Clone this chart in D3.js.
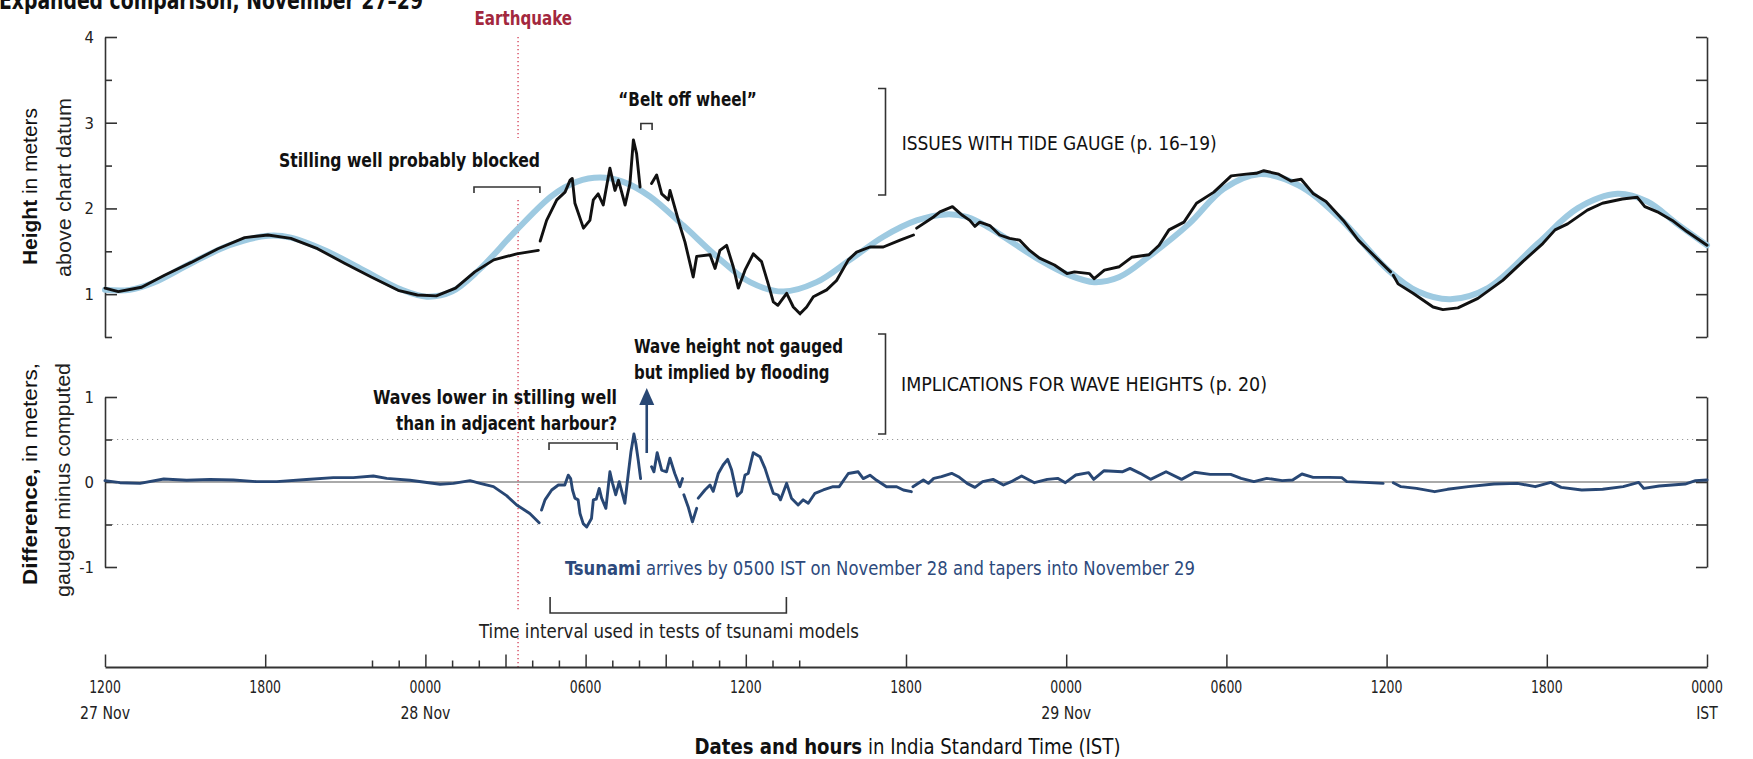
<!DOCTYPE html>
<html><head><meta charset="utf-8">
<script src="https://cdn.jsdelivr.net/npm/d3@7"></script>
<style>
html,body{margin:0;padding:0;background:#fff;}
svg{display:block;}
text{font-family:"Liberation Sans Narrow","Arial Narrow","DejaVu Sans Condensed",sans-serif;}
</style></head><body>
<svg id="chart" width="1753" height="759"></svg>
<script>
// Hours after 1200 IST, 27 November; heights in meters above chart datum
const computedTide = [
[0,1.05],[0.93,1.05],[1.79,1.13],[3.23,1.36],[4.66,1.57],[6.1,1.68],[6.96,1.66],[8.25,1.51],[9.68,1.28],
[11.12,1.05],[12.05,0.97],[12.99,1.03],[14.0,1.28],[15.42,1.75],[16.75,2.15],[17.66,2.31],[18.54,2.36],
[19.41,2.31],[20.41,2.14],[21.66,1.80],[22.91,1.44],[24.16,1.14],[25.4,1.03],[26.65,1.14],[27.9,1.40],
[29.15,1.67],[30.4,1.86],[31.5,1.93],[32.3,1.90],[33.14,1.77],[35.0,1.40],[36.12,1.22],[37.05,1.14],
[37.99,1.20],[39.1,1.44],[40.6,1.82],[41.9,2.23],[43.21,2.40],[44.7,2.27],[46.2,1.90],[48.06,1.28],
[49.18,1.03],[50.39,0.94],[51.79,1.07],[53.66,1.59],[55.15,2.00],[56.64,2.17],[57.76,2.08],[58.88,1.82],[60,1.57]
];
const gaugedHeight = [
[0,1.07],[0.5,1.03],[1.37,1.08],[2.23,1.22],[3.23,1.37],[4.23,1.53],[5.23,1.66],[6.1,1.69],[6.96,1.65],
[7.96,1.53],[8.97,1.36],[9.97,1.20],[10.98,1.045],[11.7,0.99],[12.41,0.98],[13.13,1.07],[13.85,1.26],
[14.56,1.40],[15.42,1.47],[16.23,1.51],[16.27,null],
[16.3,1.62],[16.54,1.86],[16.92,2.10],[17.23,2.19],[17.42,2.33],[17.5,2.35],[17.6,2.06],[17.92,1.77],
[18.16,1.86],[18.29,2.10],[18.47,2.17],[18.66,2.04],[18.91,2.47],[19.10,2.21],[19.23,2.33],[19.48,2.04],
[19.66,2.29],[19.79,2.80],[19.91,2.64],[20.04,2.25],[20.2,null],
[20.47,2.29],[20.66,2.39],[20.85,2.17],[21.10,2.10],[21.16,2.21],[21.54,1.79],[21.72,1.61],[22.03,1.20],
[22.16,1.44],[22.66,1.46],[22.85,1.30],[23.03,1.51],[23.28,1.57],[23.53,1.32],[23.72,1.07],[23.97,1.28],
[24.28,1.47],[24.59,1.38],[24.84,1.12],[25.03,0.91],[25.2,0.87],[25.53,1.01],[25.78,0.85],[26.03,0.77],
[26.28,0.85],[26.53,0.97],[27.03,1.05],[27.4,1.16],[27.84,1.40],[28.15,1.49],[28.65,1.55],[29.15,1.55],
[29.78,1.63],[30.28,1.69],[30.34,null],
[30.40,1.77],[31.03,1.90],[31.27,1.96],[31.74,2.02],[32.11,1.92],[32.39,1.86],[32.58,1.79],[32.76,1.84],
[33.14,1.80],[33.51,1.69],[33.88,1.65],[34.26,1.63],[34.63,1.51],[35.0,1.42],[35.56,1.34],[36.03,1.24],
[36.31,1.26],[36.87,1.24],[37.05,1.18],[37.43,1.28],[37.99,1.32],[38.45,1.43],[39.1,1.46],[39.48,1.57],
[39.85,1.75],[40.41,1.84],[40.88,2.06],[41.53,2.19],[42.18,2.38],[42.74,2.40],[43.12,2.41],[43.4,2.44],
[43.96,2.40],[44.42,2.32],[44.8,2.34],[45.26,2.17],[45.73,2.08],[46.38,1.86],[46.94,1.63],[47.69,1.40],
[48.15,1.26],[48.2,null],
[48.25,1.22],[48.43,1.12],[48.99,1.01],[49.74,0.85],[50.11,0.82],[50.67,0.84],[51.42,0.95],[52.35,1.16],
[53.1,1.38],[53.85,1.59],[54.31,1.75],[54.78,1.82],[55.52,1.98],[56.08,2.06],[56.83,2.11],[57.39,2.13],
[57.67,2.02],[58.14,1.96],[58.7,1.86],[59.25,1.73],[60.0,1.57]
];
// Gauged minus computed, meters
const difference = [
[0,0.016],[0.56,-0.008],[1.31,-0.016],[2.2,0.035],[3.06,0.02],[3.93,0.03],[4.81,0.024],[5.68,0.004],
[6.43,0.004],[7.55,0.03],[8.55,0.051],[9.3,0.051],[10.05,0.071],[10.55,0.043],[11.42,0.02],[12.55,-0.027],
[13.05,-0.016],[13.67,0.016],[14.05,-0.016],[14.55,-0.055],[15.04,-0.16],[15.42,-0.27],[15.91,-0.37],
[16.26,-0.48],[16.3,null],
[16.35,-0.33],[16.48,-0.21],[16.73,-0.094],[16.98,-0.035],[17.22,-0.035],[17.35,0.08],[17.44,0.04],
[17.51,-0.094],[17.6,-0.19],[17.72,-0.21],[17.79,-0.37],[17.91,-0.49],[18.04,-0.53],[18.22,-0.43],
[18.29,-0.21],[18.4,-0.2],[18.51,-0.075],[18.6,-0.19],[18.76,-0.31],[18.91,0.12],[19.01,-0.016],
[19.13,-0.15],[19.26,0.004],[19.47,-0.25],[19.6,0.10],[19.7,0.36],[19.81,0.565],[19.88,0.455],
[19.97,0.26],[20.06,0.04],[20.2,null],
[20.47,0.18],[20.56,0.12],[20.68,0.345],[20.85,0.14],[21.03,0.12],[21.16,0.28],[21.34,0.10],[21.53,-0.055],
[21.63,0.04],[21.65,null],
[21.68,-0.15],[21.84,-0.29],[22.0,-0.47],[22.16,-0.31],[22.19,null],
[22.22,-0.19],[22.47,-0.094],[22.66,-0.035],[22.78,-0.11],[22.97,0.10],[23.15,0.20],[23.32,0.267],
[23.47,0.14],[23.68,-0.165],[23.84,-0.114],[23.97,0.082],[24.09,0.10],[24.28,0.345],[24.53,0.298],
[24.72,0.16],[24.88,0.004],[25.03,-0.133],[25.21,-0.153],[25.3,-0.21],[25.53,-0.016],[25.71,-0.19],
[25.96,-0.27],[26.15,-0.21],[26.34,-0.25],[26.59,-0.133],[26.9,-0.094],[27.27,-0.055],[27.5,-0.055],
[27.84,0.10],[28.21,0.12],[28.4,0.04],[28.65,0.08],[28.9,0.02],[29.27,-0.055],[29.65,-0.055],
[29.9,-0.094],[30.2,-0.114],[30.23,null],
[30.26,-0.055],[30.65,0.024],[30.84,-0.016],[31.04,0.043],[31.33,0.063],[31.71,0.102],[32.0,0.055],
[32.29,-0.016],[32.58,-0.063],[32.87,0.004],[33.26,0.031],[33.65,-0.035],[33.94,0.004],[34.33,0.071],
[34.81,-0.008],[35.29,0.031],[35.68,0.043],[35.97,-0.008],[36.36,0.082],[36.84,0.11],[37.03,0.031],
[37.42,0.133],[38.1,0.12],[38.39,0.16],[38.77,0.102],[39.16,0.031],[39.74,0.12],[40.32,0.031],
[40.81,0.114],[41.39,0.09],[42.16,0.09],[42.55,0.043],[43.03,0.004],[43.51,0.043],[44.09,0.016],
[44.48,0.024],[44.83,0.094],[45.25,0.055],[45.83,0.055],[46.32,0.051],[46.51,0.004],[47.19,-0.004],
[47.87,-0.016],[48.05,null],
[48.25,-0.008],[48.54,-0.055],[49.12,-0.075],[49.8,-0.114],[50.28,-0.086],[51.06,-0.055],[52.02,-0.024],
[52.9,-0.016],[53.57,-0.055],[54.15,-0.004],[54.54,-0.063],[55.31,-0.094],[56.09,-0.086],[56.86,-0.055],
[57.44,-0.004],[57.63,-0.075],[58.21,-0.047],[59.18,-0.024],[59.57,0.016],[60.0,0.024]
];
const majorHours = [0,6,12,18,24,30,36,42,48,54,60];
const majorLabels = ["1200","1800","0000","0600","1200","1800","0000","0600","1200","1800","0000"];
const threeHourTicks = [15,21];
const hourlyTicks = [10,11,13,14,16,17,19,20,22,23,25,26];
const dateHours = [0,12,36];
const dateNames = ["27 Nov","28 Nov","29 Nov"];
const heightTicks = [1,2,3,4];
const heightMinorTicks = [0.5,1.5,2.5,3.5];
const diffTicks = [-1,0,1];
const diffMinorTicks = [-0.5,0.5];
const earthquakeHour = 15.47;
const stillingBlocked = [13.82,16.29];
const beltOff = [20.07,20.49];
const wavesLower = [16.63,19.18];
const testInterval = [16.67,25.52];
const floodArrowHour = 20.29;

const svg = d3.select("#chart");
const NAVY = "#284774", AXIS = "#333";
const x = d3.scaleLinear().domain([0,60]).range([105,1707]);
const yTop = d3.scaleLinear().domain([0.5,4]).range([337,37]);
const yBot = d3.scaleLinear().domain([-1,1]).range([567,397]);
const xAxisY = 667;

function txt(g, s, opts){
  const t = g.append("text").attr("x",opts.x).attr("y",opts.y)
    .attr("font-size",opts.size||19).attr("fill",opts.fill||"#111")
    .attr("font-weight",opts.bold?"bold":"normal")
    .attr("text-anchor",opts.anchor||"start");
  if(opts.family) t.style("font-family",opts.family);
  if(Array.isArray(s)){ s.forEach(p=>t.append("tspan").attr("font-weight",p[1]?"bold":"normal").text(p[0])); }
  else t.text(s);
  if(opts.len) t.attr("textLength",opts.len).attr("lengthAdjust","spacingAndGlyphs");
  if(opts.rot) t.attr("transform",`rotate(-90 ${opts.x} ${opts.y})`);
  return t;
}

// reference lines in difference panel
svg.append("g").selectAll("line").data(diffMinorTicks).join("line")
  .attr("x1",x(0)+7).attr("x2",x(60)-7).attr("y1",d=>yBot(d)).attr("y2",d=>yBot(d))
  .attr("stroke","#999").attr("stroke-width",1.2).attr("stroke-dasharray","1.2,3.8");
svg.append("line").attr("x1",x(0)).attr("x2",x(60)).attr("y1",yBot(0)).attr("y2",yBot(0))
  .attr("stroke","#aaa").attr("stroke-width",2);

// earthquake line
const ex = x(earthquakeHour);
[[37,138],[200,612],[634,667]].forEach(s=>{
  svg.append("line").attr("x1",ex).attr("x2",ex).attr("y1",s[0]).attr("y2",s[1])
   .attr("stroke","#d23a52").attr("stroke-width",1.3).attr("stroke-dasharray","1.3,2.7");
});

// y axes
function yAxis(scale, major, minor, labels){
  const gL = svg.append("g").attr("transform",`translate(${x(0)},0)`);
  gL.call(d3.axisRight(scale).tickValues(major).tickSize(12).tickSizeOuter(0).tickFormat(""));
  gL.append("g").call(d3.axisRight(scale).tickValues(minor).tickSize(7).tickSizeOuter(0).tickFormat(""))
    .select(".domain").remove();
  gL.selectAll("path,line").attr("stroke",AXIS).attr("stroke-width",1.6);
  gL.selectAll(".lbl").data(major).join("text").attr("class","lbl")
    .attr("x",-11).attr("y",d=>scale(d)).attr("dy","0.36em").attr("text-anchor","end")
    .attr("font-size",16.5).attr("fill","#222").text(labels);
  const gR = svg.append("g").attr("transform",`translate(${x(60)},0)`);
  gR.call(d3.axisLeft(scale).tickValues(major.concat(minor)).tickSize(11).tickSizeOuter(0).tickFormat(""));
  gR.selectAll("path,line").attr("stroke",AXIS).attr("stroke-width",1.6);
  gR.selectAll("text").remove();
}
yAxis(yTop, heightTicks, heightMinorTicks, d=>d3.format("d")(d));
yAxis(yBot, diffTicks, diffMinorTicks, d=>d<0?"-"+Math.abs(d):String(d));

// x axis
const gx = svg.append("g").attr("transform",`translate(0,${xAxisY})`);
gx.call(d3.axisTop(x).tickValues(majorHours.concat(threeHourTicks)).tickSize(12.5).tickSizeOuter(0).tickFormat(""));
gx.append("g").call(d3.axisTop(x).tickValues(hourlyTicks).tickSize(6.5).tickSizeOuter(0).tickFormat(""))
  .select(".domain").remove();
gx.selectAll("path,line").attr("stroke",AXIS).attr("stroke-width",1.5);
gx.select(".domain").attr("stroke-width",2);
gx.selectAll(".hl").data(majorHours).join("text").attr("class","hl")
  .attr("x",d=>x(d)).attr("y",25.5).attr("text-anchor","middle").attr("font-size",17.5).attr("fill","#222")
  .attr("textLength",31.7).attr("lengthAdjust","spacingAndGlyphs")
  .text((d,i)=>majorLabels[i]);
gx.selectAll(".dl").data(dateHours).join("text").attr("class","dl")
  .attr("x",d=>x(d)).attr("y",51.5).attr("font-size",17.5).attr("fill","#222")
  .attr("textLength",50).attr("lengthAdjust","spacingAndGlyphs")
  .text((d,i)=>dateNames[i]);
gx.append("text").attr("x",x(60)).attr("y",51.5).attr("text-anchor","middle").attr("font-size",17.5)
  .attr("textLength",21.5).attr("lengthAdjust","spacingAndGlyphs")
  .attr("fill","#222").text("IST");

// series
const lineTop = d3.line().defined(d=>d[1]!==null).x(d=>x(d[0])).y(d=>yTop(d[1]));
svg.append("path").datum(computedTide)
  .attr("d",lineTop.curve(d3.curveCatmullRom.alpha(0.5)))
  .attr("fill","none").attr("stroke","#9ecae1").attr("stroke-width",6).attr("stroke-linecap","round");
svg.append("path").datum(gaugedHeight)
  .attr("d",d3.line().defined(d=>d[1]!==null).x(d=>x(d[0])).y(d=>yTop(d[1]))(gaugedHeight))
  .attr("fill","none").attr("stroke","#111").attr("stroke-width",2.9)
  .attr("stroke-linejoin","round").attr("stroke-linecap","round");
svg.append("path").datum(difference)
  .attr("d",d3.line().defined(d=>d[1]!==null).x(d=>x(d[0])).y(d=>yBot(d[1]))(difference))
  .attr("fill","none").attr("stroke",NAVY).attr("stroke-width",2.9)
  .attr("stroke-linejoin","round").attr("stroke-linecap","round");

// brackets
const br = svg.append("g").attr("fill","none").attr("stroke",AXIS).attr("stroke-width",1.6);
br.append("path").attr("d",`M${x(stillingBlocked[0])},193V187H${x(stillingBlocked[1])}V193`);
br.append("path").attr("d",`M${x(beltOff[0])},130V123.5H${x(beltOff[1])}V130`);
br.append("path").attr("d",`M878,88.5H885.5V195H878`);
br.append("path").attr("d",`M878,334H885.5V434H878`);
br.append("path").attr("d",`M${x(wavesLower[0])},450V443H${x(wavesLower[1])}V450`);
br.append("path").attr("d",`M${x(testInterval[0])},597V613H${x(testInterval[1])}V597`);

// arrow
const ax = x(floodArrowHour);
svg.append("line").attr("x1",ax).attr("x2",ax).attr("y1",453).attr("y2",402)
  .attr("stroke",NAVY).attr("stroke-width",2.6);
svg.append("path").attr("d",`M${ax},388L${ax+7.5},405L${ax-7.5},405Z`).attr("fill",NAVY);

// texts
const T = svg.append("g");
txt(T,"Expanded comparison, November 27\u201329",{x:-1,y:9,size:24,bold:true,len:424});
txt(T,"Earthquake",{x:474.5,y:25,size:19,bold:true,fill:"#a3283e",len:97.5});
txt(T,"Stilling well probably blocked",{x:279,y:166.5,size:19,bold:true,len:261});
txt(T,"\u201cBelt off wheel\u201d",{x:618.3,y:105.7,size:19,bold:true,len:138.5});
txt(T,"ISSUES WITH TIDE GAUGE (p. 16\u201319)",{x:901.7,y:150,size:20,len:315});
txt(T,"IMPLICATIONS FOR WAVE HEIGHTS (p. 20)",{x:901,y:391,size:20,len:366});
txt(T,"Wave height not gauged",{x:634,y:353.3,size:19,bold:true,len:209});
txt(T,"but implied by flooding",{x:634,y:379,size:19,bold:true,len:195.5});
txt(T,"Waves lower in stilling well",{x:617,y:404,size:19,bold:true,anchor:"end",len:244});
txt(T,"than in adjacent harbour?",{x:617,y:430,size:19,bold:true,anchor:"end",len:221});
txt(T,[["Tsunami",true],[" arrives by 0500 IST on November 28 and tapers into November 29",false]],
  {x:565,y:574.5,size:20,fill:"#2d4a7c",len:630});
txt(T,"Time interval used in tests of tsunami models",{x:479,y:637.5,size:20,fill:"#222",len:380});
txt(T,[["Dates and hours",true],[" in India Standard Time (IST)",false]],{x:694.5,y:753.5,size:21,len:426});
const AF = '"Liberation Sans",Arial,sans-serif';
txt(T,[["Height",true],[" in meters",false]],{x:36.5,y:265,size:21,rot:true,family:AF,len:157});
txt(T,"above chart datum",{x:70.5,y:277,size:21,rot:true,family:AF,len:179,fill:"#222"});
txt(T,[["Difference,",true],[" in meters,",false]],{x:36.5,y:585,size:21,rot:true,family:AF,len:222});
txt(T,"gauged minus computed",{x:69.5,y:597,size:21,rot:true,family:AF,len:234,fill:"#222"});
</script>
</body></html>
